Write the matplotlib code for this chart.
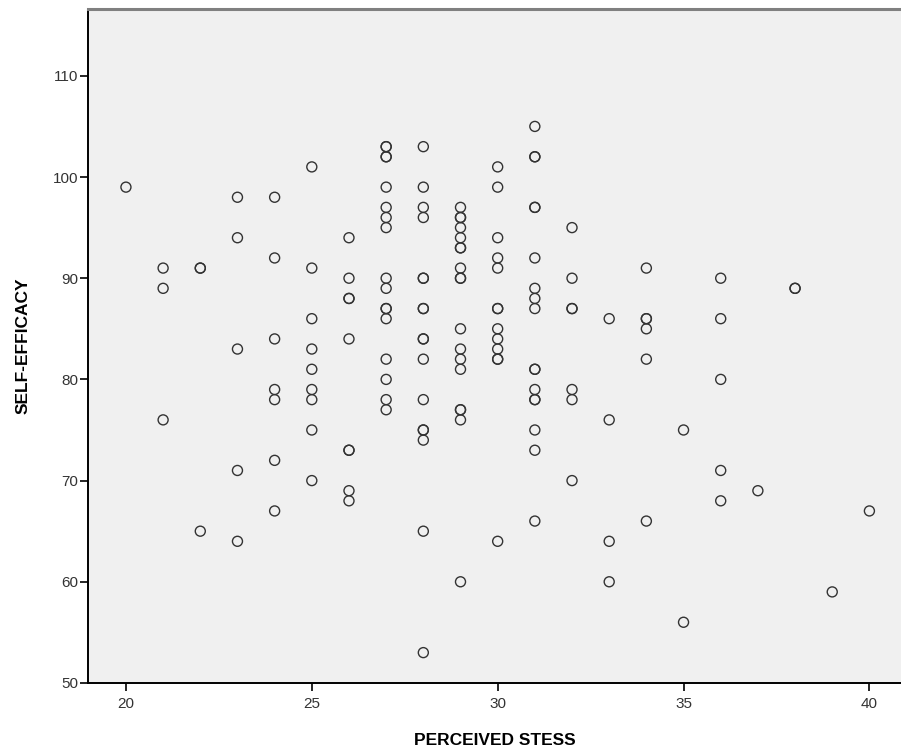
"""Scatter of self-efficacy against perceived stress (SPSS style)."""

import matplotlib
matplotlib.use("Agg")
import matplotlib.pyplot as plt

# Perceived stress score for each respondent
stress = [
    20,
    21, 21, 21,
    22, 22, 22,
    23, 23, 23, 23, 23,
    24, 24, 24, 24, 24, 24, 24,
    25, 25, 25, 25, 25, 25, 25, 25, 25,
    26, 26, 26, 26, 26, 26, 26, 26, 26,
    27, 27, 27, 27, 27, 27, 27, 27, 27, 27, 27, 27, 27, 27, 27, 27, 27,
    28, 28, 28, 28, 28, 28, 28, 28, 28, 28, 28, 28, 28, 28, 28, 28, 28,
    29, 29, 29, 29, 29, 29, 29, 29, 29, 29, 29, 29, 29, 29, 29, 29, 29, 29,
    30, 30, 30, 30, 30, 30, 30, 30, 30, 30, 30, 30, 30,
    31, 31, 31, 31, 31, 31, 31, 31, 31, 31, 31, 31, 31, 31, 31, 31, 31,
    32, 32, 32, 32, 32, 32, 32,
    33, 33, 33, 33,
    34, 34, 34, 34, 34, 34,
    35, 35,
    36, 36, 36, 36, 36,
    37,
    38, 38,
    39,
    40,
]

# Self-efficacy score for each respondent (same order)
efficacy = [
    99,
    91, 89, 76,
    91, 91, 65,
    98, 94, 83, 71, 64,
    98, 92, 84, 79, 78, 72, 67,
    101, 91, 86, 83, 81, 79, 78, 75, 70,
    94, 90, 88, 88, 84, 73, 73, 69, 68,
    103, 103, 102, 102, 99, 97, 96, 95, 90, 89, 87, 87, 86, 82, 80, 78, 77,
    103, 99, 97, 96, 90, 90, 87, 87, 84, 84, 82, 78, 75, 75, 74, 65, 53,
    97, 96, 96, 95, 94, 93, 93, 91, 90, 90, 85, 83, 82, 81, 77, 77, 76, 60,
    101, 99, 94, 92, 91, 87, 87, 85, 84, 83, 82, 82, 64,
    105, 102, 102, 97, 97, 92, 89, 88, 87, 81, 81, 79, 78, 78, 75, 73, 66,
    95, 90, 87, 87, 79, 78, 70,
    86, 76, 64, 60,
    91, 86, 86, 85, 82, 66,
    75, 56,
    90, 86, 80, 71, 68,
    69,
    89, 89,
    59,
    67,
]

x_ticks = [20, 25, 30, 35, 40]
y_ticks = [50, 60, 70, 80, 90, 100, 110]

plt.rcParams['font.family'] = ['Liberation Sans', 'DejaVu Sans']

fig = plt.figure(figsize=(9.01, 7.53), dpi=100)
ax = fig.add_axes([0.0977, 0.093, 0.9023, 0.895])
ax.set_facecolor('#f0f0f0')

ax.scatter(stress, efficacy, s=52, facecolors='none', edgecolors='#333333',
           linewidths=1.0)

ax.set_xlim(18.98, 40.85)
ax.set_ylim(50, 116.6)
ax.set_xticks(x_ticks)
ax.set_yticks(y_ticks)

ax.tick_params(direction='out', length=6, width=1.2, colors='black',
               labelcolor='#333333')
ax.tick_params(axis='x', pad=4)
ax.tick_params(axis='y', pad=1)
for lbl in ax.get_xticklabels() + ax.get_yticklabels():
    lbl.set_family(['Liberation Sans Narrow', 'Liberation Sans'])
    lbl.set_fontsize(11)

for side in ('left', 'bottom'):
    ax.spines[side].set_color('black')
    ax.spines[side].set_linewidth(1.4)
ax.spines['top'].set_color('#808080')
ax.spines['top'].set_linewidth(2.2)
ax.spines['right'].set_visible(False)

ax.set_xlabel('PERCEIVED STESS', fontsize=12.5, fontweight='bold', labelpad=16)
ax.set_ylabel('SELF-EFFICACY', fontsize=12.5, fontweight='bold', labelpad=16)

fig.savefig('out.png', dpi=100)
plt.close(fig)
